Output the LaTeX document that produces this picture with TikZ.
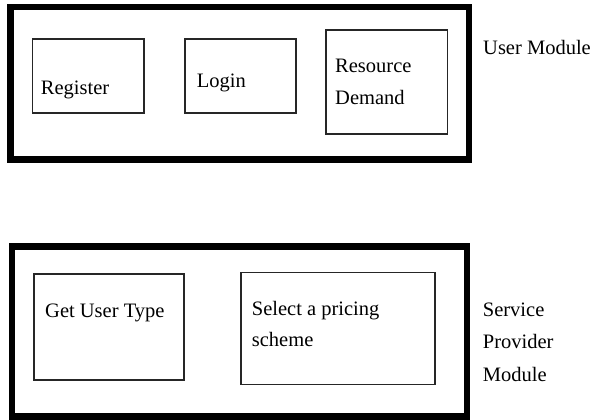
\documentclass[tikz,border=0pt]{standalone}
\usepackage{fontspec}
\setmainfont{Liberation Serif}
\begin{document}
\begin{tikzpicture}[x=1pt,y=-1pt,
  modbox/.style={draw=black,line width=6.5pt,outer sep=0pt,inner sep=0pt,anchor=north west},
  taskbox/.style={draw=black!85,line width=1.6pt,outer sep=0pt,inner sep=0pt,anchor=north west},
  lbl/.style={anchor=base west,inner sep=0pt,font=\fontsize{20.5}{24}\selectfont}]
  \useasboundingbox[fill=white] (0,0) rectangle (592,420);

  % User module
  \node[modbox,minimum width=458.5pt,minimum height=152.7pt] (usermod) at (10.5,7) {};
  \node[taskbox,minimum width=111.5pt,minimum height=74pt] (register) at (32.5,39) {};
  \node[taskbox,minimum width=111pt,minimum height=74pt] (login) at (185,39) {};
  \node[taskbox,minimum width=121.5pt,minimum height=104pt] (resource) at (326,30) {};
  \node[lbl] (registertxt) at (40.7,95) {Register};
  \node[lbl] (logintxt) at (196.7,88) {Login};
  \node[lbl] (resourcetxt1) at (335,72.7) {Resource};
  \node[lbl] (resourcetxt2) at (335,104) {Demand};
  \node[lbl] (usermodtxt) at (483,55) {User Module};

  % Service provider module
  \node[modbox,minimum width=455pt,minimum height=170pt] (spmod) at (12,246.7) {};
  \node[taskbox,minimum width=150pt,minimum height=106pt] (usertype) at (34,274) {};
  \node[taskbox,minimum width=194pt,minimum height=112pt] (pricing) at (241,272.5) {};
  \node[lbl] (usertypetxt) at (45,317.3) {Get User Type};
  \node[lbl] (pricingtxt1) at (251.7,315) {Select a pricing};
  \node[lbl] (pricingtxt2) at (251.7,346.7) {scheme};
  \node[lbl] (spmodtxt1) at (482.7,316.7) {Service};
  \node[lbl] (spmodtxt2) at (482.7,348.5) {Provider};
  \node[lbl] (spmodtxt3) at (482.7,381.5) {Module};
\end{tikzpicture}
\end{document}
